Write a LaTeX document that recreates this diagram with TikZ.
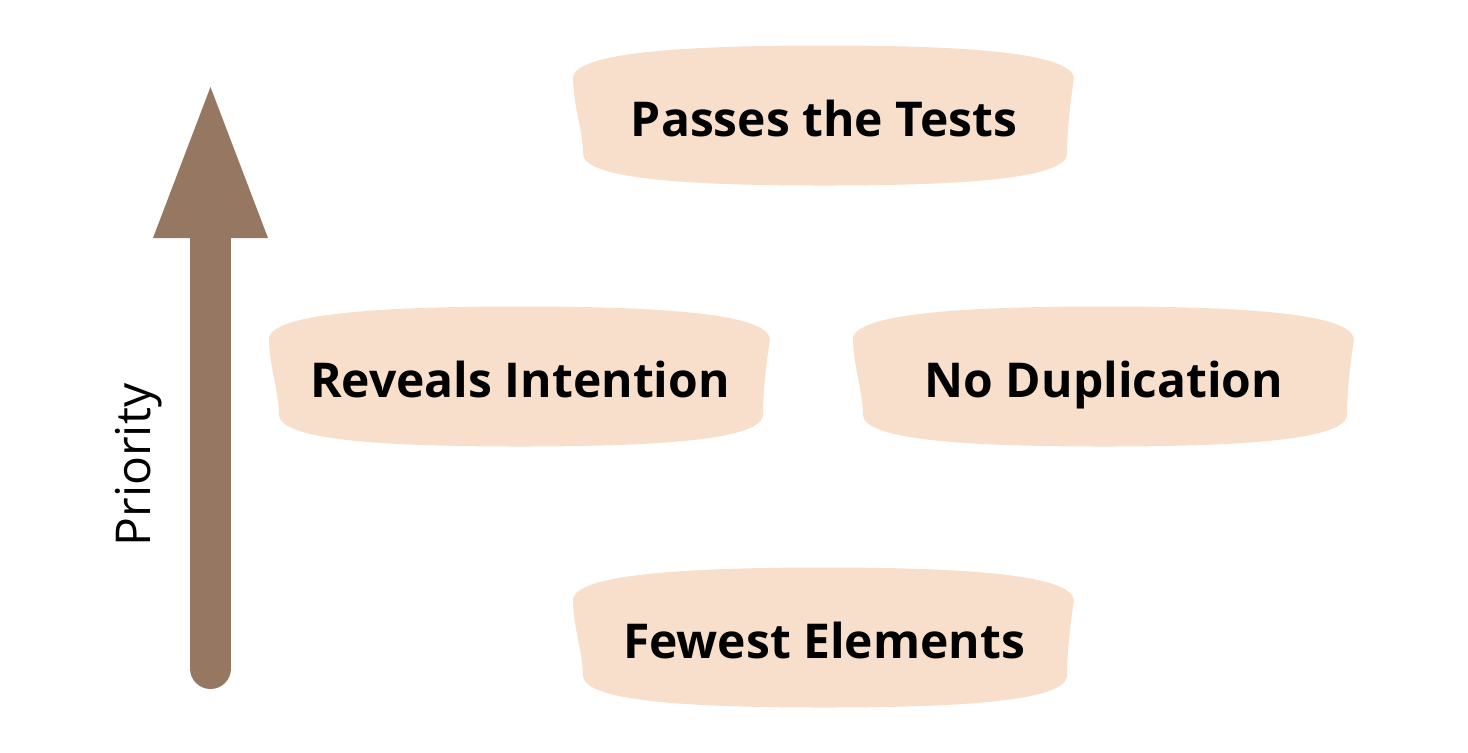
\documentclass[tikz,border=0pt]{standalone}
\usepackage{fontspec}
\setmainfont{Open Sans}
\usetikzlibrary{arrows.meta,positioning,backgrounds}
\definecolor{boxfill}{HTML}{F8DFCC}
\definecolor{arrowbrown}{HTML}{957762}

\begin{document}
\begin{tikzpicture}[x=0.5pt,y=-0.5pt,>=Latex,
  goal/.style={minimum width=251pt,minimum height=70pt,inner sep=0pt,
    font=\fontsize{24}{28}\selectfont\bfseries,text height=17pt,text depth=0pt},
  blob/.pic={\fill[boxfill]
      (-251,-39) .. controls (-245,-62) and (-150,-70) .. (0,-70)
      .. controls (150,-70) and (245,-62) .. (250,-38)
      .. controls (246,-10) and (243,15) .. (243,39)
      .. controls (240,62) and (150,70) .. (0,70)
      .. controls (-150,70) and (-238,62) .. (-241,39)
      .. controls (-241,15) and (-251,-10) .. cycle;}]
\useasboundingbox (0,0) rectangle (1468,752);
\node[goal] (tests) at (824,119) {Passes the Tests};
\node[goal] (reveals) at (520,380) {Reveals Intention};
\node[goal] (nodup) at (1104,380) {No Duplication};
\node[goal] (fewest) at (824,641) {Fewest Elements};
\begin{scope}[on background layer]
\pic[yshift=1.75pt] at (tests) {blob};
\pic[yshift=1.75pt] at (reveals) {blob};
\pic[yshift=1.75pt] at (nodup) {blob};
\pic[yshift=1.75pt] at (fewest) {blob};
\end{scope}
% priority arrow
\coordinate (tail) at (210.5,668.5);
\coordinate (base) at (210.5,238);
\coordinate (tip) at (210.5,87);
\draw[arrowbrown,line width=20.5pt,line cap=round] (tail) -- (base);
\fill[arrowbrown] (tip) -- ([xshift=-28.75pt]base) -- ([xshift=28.75pt]base) -- cycle;
\node[rotate=90,anchor=base,font=\fontsize{24}{28}\selectfont] (prio) at (150,465) {Priority};
\end{tikzpicture}
\end{document}
